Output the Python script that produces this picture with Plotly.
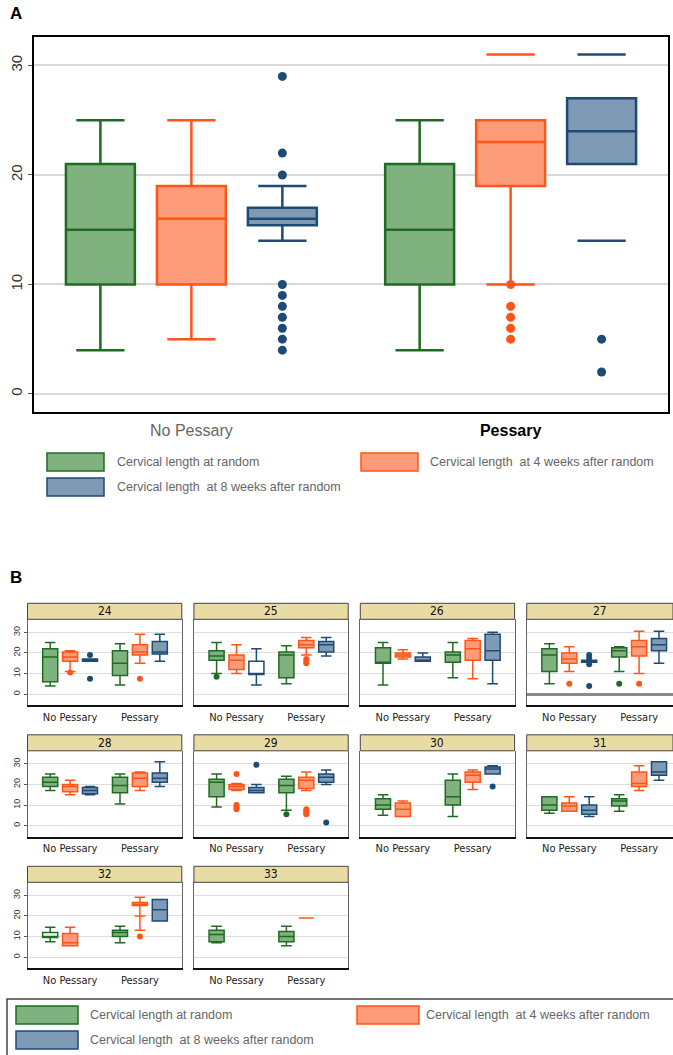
import plotly.graph_objects as go

W, H = 673, 1055

GROUPS = ["No Pessary", "Pessary"]
SERIES = ["Cervical length at random",
          "Cervical length  at 4 weeks after random",
          "Cervical length  at 8 weeks after random"]
Y_TICKS = [0, 10, 20, 30]
WEEKS = [24, 25, 26, 27, 28, 29, 30, 31, 32, 33]

# Each box: (group, series index, lower whisker, q1, median, q3, upper whisker, outliers)
panel_a = [
    ("No Pessary", 0, 4, 10, 15, 21, 25, []),
    ("No Pessary", 1, 5, 10, 16, 19, 25, []),
    ("No Pessary", 2, 14, 15.4, 16, 17, 19, [29, 22, 20, 10, 9, 8, 7, 6, 5, 4]),
    ("Pessary", 0, 4, 10, 15, 21, 25, []),
    ("Pessary", 1, 10, 19, 23, 25, 31, [10, 8, 7, 6, 5]),
    ("Pessary", 2, 14, 21, 24, 27, 31, [5, 2]),
]

wk24 = [
    ("No Pessary", 0, 4, 6, 18, 22, 25, []),
    ("No Pessary", 1, 11, 16, 18, 20.5, 21, [10.5]),
    ("No Pessary", 2, 16, 16, 16.5, 17, 17, [19, 7.5]),
    ("Pessary", 0, 4.5, 9, 15, 21, 24.5, []),
    ("Pessary", 1, 15, 19, 20.5, 24, 29, [7.5]),
    ("Pessary", 2, 16, 19.5, 20.5, 25.5, 29, []),
]
wk25 = [
    ("No Pessary", 0, 10, 16.5, 18.5, 21, 25, [8.5]),
    ("No Pessary", 1, 10, 12, 16.5, 19, 24, []),
    ("No Pessary", 2, 4.5, 9.5, 9.5, 16, 22, []),
    ("Pessary", 0, 5, 8, 19, 20.5, 23.5, []),
    ("Pessary", 1, 19, 22.5, 24, 26, 27.5, [17, 16, 15]),
    ("Pessary", 2, 18.5, 20.5, 24, 25.5, 27.5, []),
]
wk26 = [
    ("No Pessary", 0, 4.5, 15, 15.5, 22.5, 25, []),
    ("No Pessary", 1, 17, 18, 19, 20, 21.5, []),
    ("No Pessary", 2, 16, 16, 16.5, 18, 20, []),
    ("Pessary", 0, 8, 15.5, 19, 20.5, 25, []),
    ("Pessary", 1, 7.5, 16.5, 22, 26, 27, []),
    ("Pessary", 2, 5, 16.5, 21, 29, 30, []),
]
wk27 = [
    ("No Pessary", 0, 5, 11, 19, 22, 24.5, []),
    ("No Pessary", 1, 11, 15, 17, 20, 23, [5]),
    ("No Pessary", 2, 15.5, 15.5, 16, 16.5, 16.5, [19, 17.5, 14.5, 4]),
    ("Pessary", 0, 11, 18, 21, 22.5, 23, [5]),
    ("Pessary", 1, 10, 18.5, 23, 26, 30.5, [5]),
    ("Pessary", 2, 15, 21, 24, 27, 30.5, []),
]
wk28 = [
    ("No Pessary", 0, 17, 19, 21, 23.5, 25, []),
    ("No Pessary", 1, 15, 16.5, 19, 20, 22, []),
    ("No Pessary", 2, 15, 15.5, 17, 18.5, 19, []),
    ("Pessary", 0, 10.5, 16, 19.5, 23.5, 25, []),
    ("Pessary", 1, 17, 19, 23, 25.5, 26, []),
    ("Pessary", 2, 19, 21, 23, 25.5, 31, []),
]
wk29 = [
    ("No Pessary", 0, 9, 14, 21, 22.5, 25, []),
    ("No Pessary", 1, 17, 17.5, 19, 20, 20.5, [25, 10, 9, 8]),
    ("No Pessary", 2, 16, 16, 17, 18.5, 20, [29.5]),
    ("Pessary", 0, 7.5, 16, 19.5, 22.5, 24, [5.5]),
    ("Pessary", 1, 17, 18, 22, 23.5, 26, [8, 7, 6, 5.5]),
    ("Pessary", 2, 20, 21, 23.5, 25, 27, [1.5]),
]
wk30 = [
    ("No Pessary", 0, 5, 8, 10, 13, 15, []),
    ("No Pessary", 1, 4.5, 4.5, 8, 11, 12, []),
    ("Pessary", 0, 4.5, 10, 14, 22, 25, []),
    ("Pessary", 1, 17.5, 21, 24.5, 26, 27, []),
    ("Pessary", 2, 25, 25, 27.5, 28.5, 29, [19]),
]
wk31 = [
    ("No Pessary", 0, 6, 7.5, 10, 14, 14, []),
    ("No Pessary", 1, 7, 7, 9.5, 11, 14, []),
    ("No Pessary", 2, 4.5, 5.5, 7.5, 10, 14, []),
    ("Pessary", 0, 7, 9.5, 12, 13, 15, []),
    ("Pessary", 1, 17, 19, 20.5, 26, 29, []),
    ("Pessary", 2, 22, 24.5, 26, 31, 31, []),
]
wk32 = [
    ("No Pessary", 0, 7.5, 9.5, 10, 12, 14.5, []),
    ("No Pessary", 1, 5.5, 5.5, 7, 11.5, 14.5, []),
    ("Pessary", 0, 7, 10, 12, 13, 15, []),
    ("Pessary", 1, 13, 25, 25.5, 26.5, 29, [10]),
    ("Pessary", 2, 17.5, 17.5, 23, 28, 28, []),
]
wk33 = [
    ("No Pessary", 0, 7, 7.5, 11, 13, 15, []),
    ("Pessary", 0, 5.5, 7.5, 10, 12.5, 15, []),
    ("Pessary", 1, 19, 19, 19, 19, 19, []),
]
WEEK_BOXES = [wk24, wk25, wk26, wk27, wk28, wk29, wk30, wk31, wk32, wk33]

# whiskers whose connecting line is not visible in the source (only the cap is drawn)
CAP_ONLY = {("A", "Pessary", 1): "upper", ("A", "Pessary", 2): "both"}
OPEN_BOXES = {(25, "No Pessary", 2), (32, "No Pessary", 0)}
EXTRA_CAPS = {(32, "Pessary", 1): [20]}

# ---------------- styling ----------------
LINE_COLORS = ["#1f6b21", "#ff5518", "#1e4a76"]
FILL_COLORS = ["#7fb27f", "#fb9b78", "#7f9ab5"]
OFFSETS = [-0.285, 0.0, 0.285]
BOX_W = 0.216
WHISK = 0.7
NARROW = "Liberation Sans Narrow, DejaVu Sans Condensed, Arial Narrow, sans-serif"
SANS = "Liberation Sans, Arial, sans-serif"
HEADER_FILL = "#e9dba4"


def dom_x(l, r):
    return [max(l, 0) / W, min(r, W) / W]


def dom_y(t, b):
    return [1 - b / H, 1 - t / H]


fig = go.Figure()


def add_boxes(boxes, key, xa, ya, line_w, px_per_unit, dot_size):
    for (g, s, lo, q1, med, q3, hi, outs) in boxes:
        xpos = GROUPS.index(g) + OFFSETS[s]
        hide = CAP_ONLY.get((key, g, s), "")
        lf = q1 if hide in ("lower", "both") else lo
        uf = q3 if hide in ("upper", "both") else hi
        fill = "white" if (key, g, s) in OPEN_BOXES else FILL_COLORS[s]
        fig.add_trace(go.Box(
            x=[xpos], q1=[q1], median=[med], q3=[q3],
            lowerfence=[lf], upperfence=[uf],
            width=BOX_W, whiskerwidth=WHISK, fillcolor=fill,
            line=dict(color=LINE_COLORS[s], width=line_w),
            boxpoints=False, xaxis=xa, yaxis=ya,
            showlegend=False, hoverinfo="skip", name=SERIES[s]))
        caps = []
        if hide in ("upper", "both"):
            caps.append(hi)
        if hide in ("lower", "both"):
            caps.append(lo)
        caps += EXTRA_CAPS.get((key, g, s), [])
        ys = caps + list(outs)
        if not ys:
            continue
        cap_size = BOX_W * WHISK * px_per_unit / 1.4
        fig.add_trace(go.Scatter(
            x=[xpos] * len(ys), y=ys, mode="markers",
            marker=dict(
                symbol=["line-ew"] * len(caps) + ["circle"] * len(outs),
                size=[cap_size] * len(caps) + [dot_size] * len(outs),
                color=LINE_COLORS[s], opacity=1,
                line=dict(color=LINE_COLORS[s],
                          width=[line_w] * len(caps) + [0] * len(outs))),
            xaxis=xa, yaxis=ya, showlegend=False, hoverinfo="skip"))


layout = dict(width=W, height=H, margin=dict(l=0, r=0, t=0, b=0),
              paper_bgcolor="white", plot_bgcolor="white", showlegend=False)

# ---------------- Panel A ----------------
A_L, A_R, A_T, A_B = 34, 668, 37, 412
A_XR = [-0.493, 1.493]
A_YR = [-1.65, 32.6]
a_ppu = (A_R - A_L) / (A_XR[1] - A_XR[0])
add_boxes(panel_a, "A", "x", "y", 2.5, a_ppu, 9)
layout["xaxis"] = dict(
    domain=dom_x(A_L, A_R), range=A_XR, tickvals=[0, 1],
    ticktext=[GROUPS[0], "<span style='color:#000'><b>" + GROUPS[1] + "</b></span>"],
    tickfont=dict(family=SANS, size=16, color="#666"),
    showgrid=False, zeroline=False, showline=True, linecolor="#000",
    linewidth=2, mirror=True, ticks="outside", ticklen=3, tickcolor="rgba(0,0,0,0)")
layout["yaxis"] = dict(
    domain=dom_y(A_T, A_B), range=A_YR, tickvals=Y_TICKS, tickangle=-90,
    tickfont=dict(family=SANS, size=15, color="#333"),
    showgrid=True, gridcolor="#d9d9d9", gridwidth=2, zeroline=False,
    showline=True, linecolor="#000", linewidth=1.5, mirror=True,
    ticks="outside", ticklen=4, tickcolor="#555")

# ---------------- Panel B ----------------
B_LEFT0, B_PITCH_X, B_WIDTH = 27.5, 166.4, 154.3
B_TOP0, B_PITCH_Y, B_HEIGHT = 619.3, 131.5, 86
B_HEADER = 16
B_XR = [-0.61, 1.6]
B_YR = [-5.4, 36.3]
b_ppu = B_WIDTH / (B_XR[1] - B_XR[0])

shapes = []
annotations = []
for i, (wk, boxes) in enumerate(zip(WEEKS, WEEK_BOXES)):
    n = i + 2
    row, col = divmod(i, 4)
    left = B_LEFT0 + col * B_PITCH_X
    right = left + B_WIDTH
    top = B_TOP0 + row * B_PITCH_Y
    bottom = top + B_HEIGHT
    xr = list(B_XR)
    if right > W:
        xr[1] = B_XR[0] + (W - left) / b_ppu
    add_boxes(boxes, wk, f"x{n}", f"y{n}", 1.5, b_ppu, 6)
    layout[f"xaxis{n}"] = dict(
        domain=dom_x(left, right), range=xr, anchor=f"y{n}",
        tickvals=[0, 1], ticktext=GROUPS,
        tickfont=dict(family=NARROW, size=11, color="#222"),
        showgrid=False, zeroline=False, showline=True, linecolor="#111",
        linewidth=2, ticks="")
    layout[f"yaxis{n}"] = dict(
        domain=dom_y(top, bottom), range=B_YR, anchor=f"x{n}",
        tickvals=Y_TICKS, tickangle=-90, showticklabels=(col == 0),
        tickfont=dict(family=SANS, size=9, color="#333"),
        ticks="outside" if col == 0 else "", ticklen=3, tickcolor="#555",
        showgrid=True, gridcolor="#dddddd", gridwidth=1,
        zeroline=(wk == 27), zerolinecolor="#8a8a8a", zerolinewidth=3,
        showline=True, linecolor="#666", linewidth=1, mirror=True)
    shapes.append(dict(type="rect", xref=f"x{n} domain", yref=f"y{n} domain",
                       x0=0, x1=1, y0=1, y1=1 + B_HEADER / B_HEIGHT,
                       fillcolor=HEADER_FILL, line=dict(color="#444", width=1)))
    annotations.append(dict(text=str(wk), xref=f"x{n} domain", yref=f"y{n} domain",
                            x=0.5, y=1 + B_HEADER / 2 / B_HEIGHT, showarrow=False,
                            xanchor="center", yanchor="middle",
                            font=dict(family=NARROW, size=12, color="#111")))

# ---------------- panel letters ----------------
for letter, ypx in (("A", 13), ("B", 577)):
    annotations.append(dict(text=f"<b>{letter}</b>", xref="paper", yref="paper",
                            x=8 / W, y=1 - ypx / H, xanchor="left", yanchor="middle",
                            showarrow=False, font=dict(family=SANS, size=17, color="#000")))

# ---------------- legends ----------------
def legend(items, sw_w, sw_h, font_size):
    for s, (sx, sy, tx) in items:
        shapes.append(dict(type="rect", xref="paper", yref="paper",
                           x0=sx / W, x1=(sx + sw_w) / W,
                           y0=1 - (sy + sw_h / 2) / H, y1=1 - (sy - sw_h / 2) / H,
                           fillcolor=FILL_COLORS[s], line=dict(color=LINE_COLORS[s], width=1.5)))
        annotations.append(dict(text=SERIES[s].replace("  ", " &nbsp;"), xref="paper", yref="paper",
                                x=tx / W, y=1 - sy / H, xanchor="left", yanchor="middle",
                                showarrow=False,
                                font=dict(family=SANS, size=font_size, color="#666")))

legend([(0, (47, 462, 115)), (1, (361, 462, 428)), (2, (47, 487, 115))], 57, 18, 12.5)
shapes.append(dict(type="rect", xref="paper", yref="paper",
                   x0=7 / W, x1=700 / W, y0=1 - 1070 / H, y1=1 - 999 / H,
                   fillcolor="rgba(0,0,0,0)", line=dict(color="#444", width=1.5)))
legend([(0, (16, 1015, 88)), (1, (357, 1015, 424)), (2, (16, 1040, 88))], 62, 18, 12.5)

layout["shapes"] = shapes
layout["annotations"] = annotations
fig.update_layout(**layout)
fig.write_html("out.html", config={"displayModeBar": False},
               post_script="document.body.style.margin='0';document.body.style.padding='0';")
